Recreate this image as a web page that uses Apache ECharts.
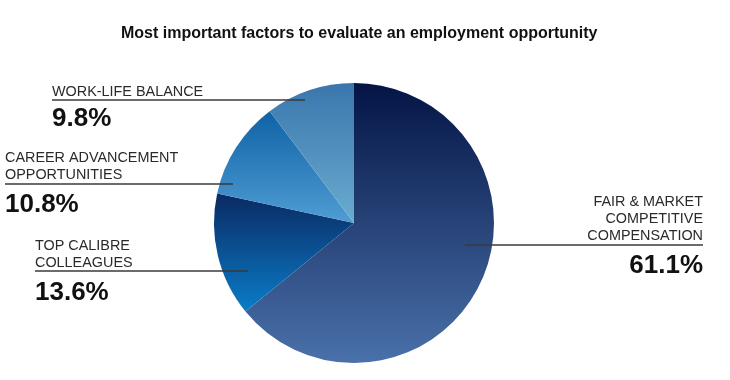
<!DOCTYPE html>
<html>
<head>
<meta charset="utf-8">
<script src="https://cdn.jsdelivr.net/npm/echarts@6/dist/echarts.min.js"></script>
<style>html,body{margin:0;padding:0;background:#fff;}#c{width:730px;height:380px;}</style>
</head>
<body>
<div id="c"></div>
<script>
const titleText = 'Most important factors to evaluate an employment opportunity';
const categories = ['FAIR & MARKET\nCOMPETITIVE\nCOMPENSATION', 'TOP CALIBRE\nCOLLEAGUES', 'CAREER ADVANCEMENT\nOPPORTUNITIES', 'WORK-LIFE BALANCE'];
const values = [61.1, 13.6, 10.8, 9.8];

// styling (not data)
const gradients = [
  ['#041445', '#4a71aa'],
  ['#0a2a62', '#0a7cc8'],
  ['#0f62a6', '#509dd4'],
  ['#3a76ad', '#6aaccf']
];
// label placement: [x, y, align, lineY, lineX1, lineX2]
const labelPos = [
  [703, 193.5, 'right', 245, 465, 703],
  [35, 237.5, 'left', 271, 35, 248],
  [5, 149.5, 'left', 184, 5, 233],
  [52, 83.5, 'left', 100, 52, 305]
];

const chart = echarts.init(document.getElementById('c'), null, {renderer: 'canvas'});
const font = "'Liberation Sans', Arial, Helvetica, sans-serif";

const pieCommon = {
  type: 'pie',
  center: [354, 223],
  radius: 140,
  startAngle: 90,
  clockwise: true,
  avoidLabelOverlap: false,
  emphasis: {disabled: true},
  silent: true
};

chart.setOption({
  backgroundColor: '#ffffff',
  animation: false,
  title: {
    text: titleText,
    left: 116,
    top: 21,
    textStyle: {fontFamily: font, fontSize: 16, fontWeight: 'bold', color: '#111'}
  },
  series: [
    Object.assign({}, pieCommon, {
      z: 2,
      label: {show: false},
      labelLine: {show: false},
      data: categories.map((name, i) => ({
        name: name,
        value: values[i],
        itemStyle: {
          borderWidth: 0,
          color: {
            type: 'linear', x: 0, y: 0, x2: 0, y2: 1,
            colorStops: [{offset: 0, color: gradients[i][0]}, {offset: 1, color: gradients[i][1]}]
          }
        }
      }))
    }),
    Object.assign({}, pieCommon, {
      z: 5,
      itemStyle: {color: 'rgba(0,0,0,0)', borderWidth: 0},
      data: categories.map((name, i) => ({name: name, value: values[i]})),
      label: {
        show: true,
        position: 'outside',
        formatter: function (p) {
          const lines = p.name.split('\n').map(s => '{n|' + s + '}').join('\n');
          const vs = p.dataIndex === 3 ? 'vt' : 'v';
          return lines + '\n{' + vs + '|' + p.value.toFixed(1) + '%}';
        },
        rich: {
          n: {fontFamily: font, fontSize: 14.4, lineHeight: 17, color: '#2a2a2a'},
          v: {fontFamily: font, fontSize: 26, fontWeight: 'bold', lineHeight: 42, color: '#111'},
          vt: {fontFamily: font, fontSize: 26, fontWeight: 'bold', lineHeight: 36, color: '#111'}
        }
      },
      labelLine: {
        show: true,
        smooth: false,
        lineStyle: {color: '#3a3a3a', width: 1.5}
      },
      labelLayout: function (params) {
        const lp = labelPos[params.dataIndex];
        return {
          x: lp[0],
          y: lp[1],
          align: lp[2],
          verticalAlign: 'top',
          labelLinePoints: [[lp[4], lp[3]], [lp[5], lp[3]]]
        };
      }
    })
  ]
});
</script>
</body>
</html>
